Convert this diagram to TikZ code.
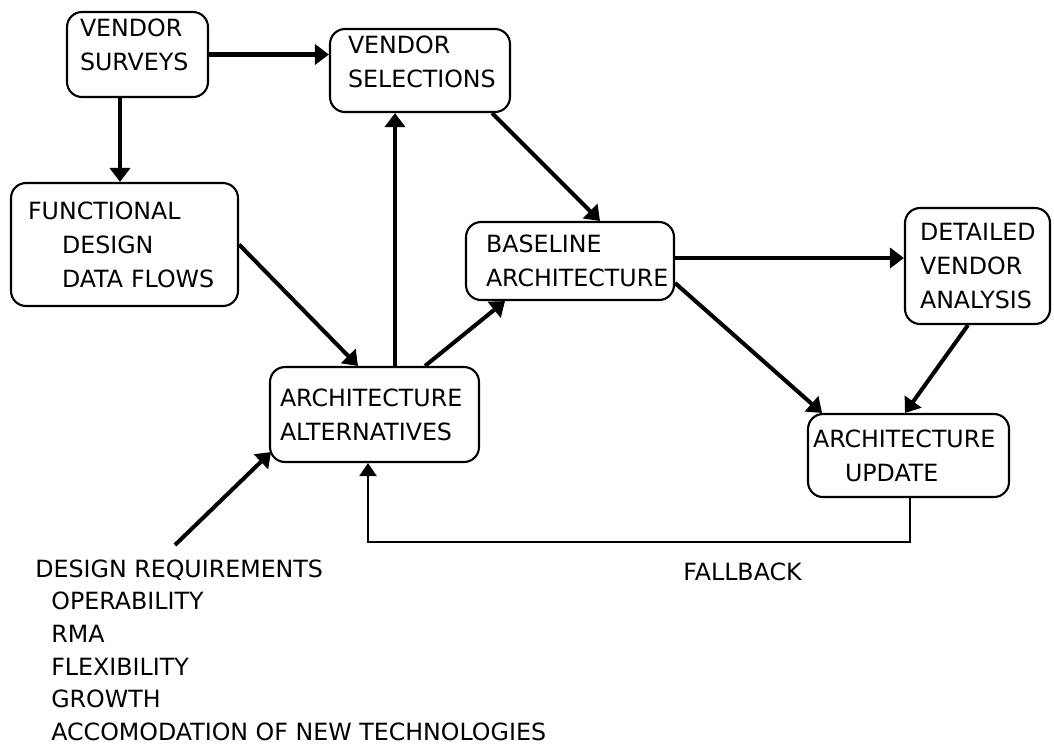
\documentclass[tikz,border=0pt]{standalone}
\usepackage{fontspec}
\setmainfont{DejaVu Sans}
\usetikzlibrary{arrows.meta,calc}
\begin{document}
\begin{tikzpicture}[x=0.02cm,y=-0.02cm,
 box/.style={draw,line width=1.2pt,rounded corners=0.3cm,align=left,inner xsep=0pt,
   font=\fontsize{13.5}{19.4}\selectfont},
 arr/.style={line width=2.3pt,-{Triangle[length=0.28cm,width=0.4cm]}},
 thinarr/.style={line width=1.3pt,-{Triangle[length=0.26cm,width=0.34cm]}},
 lbl/.style={anchor=base west,inner sep=0pt,font=\fontsize{13.5}{19.4}\selectfont}]
\useasboundingbox (0,0) rectangle (1054,748);

\node[box,minimum width=2.82cm,text width=2.82cm,minimum height=1.7cm,text depth=1.09cm] (vs) at (137.5,54.5)
  {\hspace*{0.26cm}VENDOR\\\hspace*{0.26cm}SURVEYS};
\node[box,minimum width=3.6cm,text width=3.6cm,minimum height=1.66cm,text depth=1.05cm] (vsel) at (420,70.5)
  {\hspace*{0.36cm}VENDOR\\\hspace*{0.36cm}SELECTIONS};
\node[box,minimum width=4.54cm,text width=4.54cm,minimum height=2.46cm] (fd) at (124.5,244.5)
  {\hspace*{0.34cm}FUNCTIONAL\\\hspace*{1.02cm}DESIGN\\\hspace*{1.02cm}DATA FLOWS};
\node[box,minimum width=4.18cm,text width=4.18cm,minimum height=1.9cm] (aa) at (374.5,414.5)
  {\hspace*{0.2cm}ARCHITECTURE\\\hspace*{0.2cm}ALTERNATIVES};
\node[box,minimum width=4.16cm,text width=4.16cm,minimum height=1.56cm] (ba) at (570,261)
  {\hspace*{0.4cm}BASELINE\\\hspace*{0.4cm}ARCHITECTURE};
\node[box,minimum width=2.9cm,text width=2.9cm,minimum height=2.32cm] (dva) at (977.5,266)
  {\hspace*{0.3cm}DETAILED\\\hspace*{0.3cm}VENDOR\\\hspace*{0.3cm}ANALYSIS};
\node[box,minimum width=4.02cm,text width=4.02cm,minimum height=1.66cm] (au) at (908.5,455.5)
  {\hspace*{0.1cm}ARCHITECTURE\\\hspace*{0.74cm}UPDATE};

\draw[arr] (vs.east) -- (vs.east -| vsel.west);
\draw[arr] ([xshift=-0.35cm]vs.south) -- ([xshift=-0.35cm]vs.south |- fd.north);
\draw[arr] (fd.east) -- ([xshift=-0.33cm]aa.north);
\draw[arr,line width=2pt] ([xshift=0.41cm]aa.north) -- ([xshift=0.41cm]aa.north |- vsel.south);
\draw[arr] ([xshift=1.01cm]aa.north) -- ([xshift=-1.3cm]ba.south);
\draw[arr] ([xshift=1.44cm]vsel.south) -- ([xshift=0.6cm]ba.north);
\draw[arr] ([yshift=0.06cm]ba.east) -- ([yshift=0.06cm]ba.east -| dva.west);
\draw[arr] ([yshift=-0.44cm]ba.east) -- ([xshift=-1.73cm]au.north);
\draw[arr] ([xshift=-0.19cm]dva.south) -- ([xshift=-0.07cm]au.north);

\coordinate (fb) at (0,542);
\draw[thinarr] ([xshift=0.03cm]au.south) -- ([xshift=0.03cm]au.south |- fb) -| ([xshift=-0.13cm]aa.south);

\coordinate (dr) at (175,545);
\draw[arr] (dr) -- ([xshift=0.04cm,yshift=0.22cm]aa.south west);

\node[lbl] (req) at (35,577) {DESIGN REQUIREMENTS};
\node[lbl] (r1) at (51,609) {OPERABILITY};
\node[lbl] (r2) at (51,642) {RMA};
\node[lbl] (r3) at (51,675) {FLEXIBILITY};
\node[lbl] (r4) at (51,707) {GROWTH};
\node[lbl] (r5) at (51,740) {ACCOMODATION OF NEW TECHNOLOGIES};
\node[lbl] (fbl) at (683,580) {FALLBACK};
\end{tikzpicture}
\end{document}
